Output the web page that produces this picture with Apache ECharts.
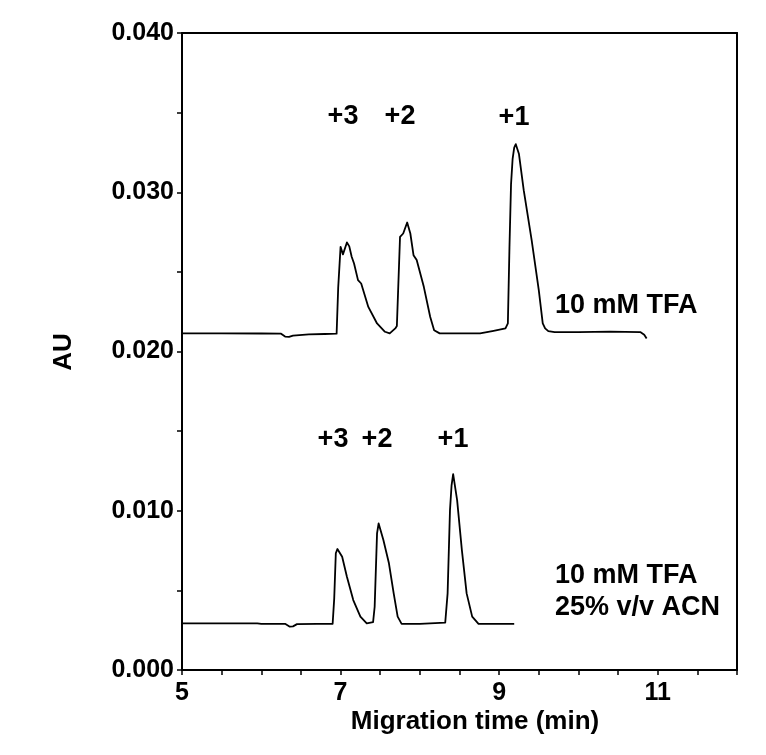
<!DOCTYPE html>
<html>
<head>
<meta charset="utf-8">
<script src="https://cdn.jsdelivr.net/npm/echarts@6/dist/echarts.min.js"></script>
<style>
  html, body { margin: 0; padding: 0; background: #fff; }
  #chart { width: 766px; height: 755px; }
</style>
</head>
<body>
<div id="chart"></div>
<script>
// 10 mM TFA (upper trace)
var tfaTime = [5.00, 5.50, 6.00, 6.25, 6.30, 6.35, 6.40, 6.60, 6.80, 6.95,
  6.97, 7.00, 7.03, 7.05, 7.08, 7.11, 7.14, 7.17, 7.22, 7.26,
  7.35, 7.46, 7.56, 7.62, 7.69, 7.71, 7.75, 7.79, 7.84, 7.88,
  7.92, 7.96, 8.05, 8.13, 8.18, 8.25, 8.50, 8.76, 8.93, 9.08,
  9.11, 9.13, 9.15, 9.17, 9.19, 9.21, 9.23, 9.25, 9.31, 9.41,
  9.50, 9.55, 9.58, 9.62, 9.70, 10.00, 10.40, 10.78, 10.83, 10.86];
var tfaAU = [0.02114, 0.02114, 0.02113, 0.02112, 0.02094, 0.02092, 0.02100, 0.02108, 0.02110, 0.02112,
  0.0240, 0.02657, 0.0261, 0.0260, 0.02685, 0.0266, 0.02595, 0.02553, 0.02448, 0.02427,
  0.0228, 0.02176, 0.02124, 0.02114, 0.02145, 0.0216, 0.0272, 0.02741, 0.0281, 0.02741,
  0.02605, 0.02574, 0.02406, 0.02218, 0.02134, 0.02114, 0.02114, 0.02114, 0.0213, 0.02145,
  0.02176, 0.0265, 0.0305, 0.0321, 0.0328, 0.03302, 0.0329, 0.0324, 0.03013, 0.02699,
  0.02385, 0.02176, 0.02145, 0.02128, 0.02122, 0.02122, 0.02125, 0.02122, 0.02105, 0.02082];

// 10 mM TFA, 25% v/v ACN (lower trace)
var acnTime = [5.00, 5.50, 5.95, 6.00, 6.30, 6.36, 6.40, 6.45, 6.70, 6.90,
  6.92, 6.94, 6.96, 6.98, 7.02, 7.08, 7.16, 7.25, 7.33, 7.41,
  7.43, 7.46, 7.48, 7.50, 7.54, 7.61, 7.67, 7.72, 7.77, 8.00,
  8.32, 8.35, 8.38, 8.40, 8.42, 8.43, 8.445, 8.47, 8.53, 8.59,
  8.66, 8.74, 9.00, 9.19];
var acnAU = [0.00293, 0.00293, 0.00293, 0.0029, 0.0029, 0.00272, 0.00274, 0.00288, 0.0029, 0.0029,
  0.0045, 0.00733, 0.0076, 0.0075, 0.00711, 0.00586, 0.00439, 0.00335, 0.00293, 0.0030,
  0.00397, 0.00858, 0.0092, 0.0091, 0.00816, 0.0067, 0.00481, 0.00335, 0.0029, 0.0029,
  0.00297, 0.00481, 0.01004, 0.0116, 0.0123, 0.01239, 0.0122, 0.01067, 0.00753, 0.00481,
  0.00335, 0.0029, 0.0029, 0.0029];

var xLabels = [5, 7, 9, 11];
var yLabels = [0, 0.01, 0.02, 0.03, 0.04];

var family = '"Liberation Sans", Arial, sans-serif';
var fontTitle = 'bold 26px ' + family;
var fontNote = 'bold 27px ' + family;

function zip(a, b) {
  var out = [];
  for (var i = 0; i < a.length; i++) out.push([a[i], b[i]]);
  return out;
}

function txt(s, x, y, f, align, rot) {
  return {
    type: 'text', x: x, y: y, rotation: rot || 0,
    style: { text: s, font: f || fontNote, fill: '#000', textAlign: align || 'center', textVerticalAlign: 'middle' }
  };
}

var chart = echarts.init(document.getElementById('chart'), null, { renderer: 'canvas' });

var axisLineStyle = { color: '#000', width: 2 };

var option = {
  animation: false,
  backgroundColor: '#fff',
  grid: { left: 182, right: 29, top: 33, bottom: 85, containLabel: false },
  xAxis: [{
    type: 'value', min: 5, max: 12, interval: 0.5,
    axisLine: { show: true, lineStyle: axisLineStyle },
    axisTick: { show: true, length: 5, lineStyle: { color: '#000', width: 1.5 } },
    splitLine: { show: false },
    axisLabel: {
      margin: 11, color: '#000', fontSize: 25, fontWeight: 'bold', fontFamily: family,
      formatter: function (v) { return xLabels.indexOf(v) >= 0 ? String(v) : ''; }
    }
  }, {
    type: 'value', min: 5, max: 12, position: 'top',
    axisLine: { show: true, onZero: false, lineStyle: axisLineStyle },
    axisTick: { show: false }, axisLabel: { show: false }, splitLine: { show: false }
  }],
  yAxis: [{
    type: 'value', min: 0, max: 0.04, interval: 0.005,
    axisLine: { show: true, lineStyle: axisLineStyle },
    axisTick: { show: true, length: 5, lineStyle: { color: '#000', width: 1.5 } },
    splitLine: { show: false },
    axisLabel: {
      margin: 8, color: '#000', fontSize: 25, fontWeight: 'bold', fontFamily: family,
      formatter: function (v) {
        for (var i = 0; i < yLabels.length; i++) {
          if (Math.abs(v - yLabels[i]) < 1e-9) return v.toFixed(3);
        }
        return '';
      }
    }
  }, {
    type: 'value', min: 0, max: 0.04, position: 'right',
    axisLine: { show: true, onZero: false, lineStyle: axisLineStyle },
    axisTick: { show: false }, axisLabel: { show: false }, splitLine: { show: false }
  }],
  series: [{
    name: '10 mM TFA', type: 'line', showSymbol: false, symbol: 'none',
    data: zip(tfaTime, tfaAU),
    lineStyle: { color: '#000', width: 1.8, join: 'round' }
  }, {
    name: '10 mM TFA, 25% v/v ACN', type: 'line', showSymbol: false, symbol: 'none',
    data: zip(acnTime, acnAU),
    lineStyle: { color: '#000', width: 1.8, join: 'round' }
  }],
  graphic: [
    txt('AU', 64, 352, fontTitle, 'center', Math.PI / 2),
    txt('Migration time (min)', 475, 722, fontTitle),
    txt('+3', 343, 117), txt('+2', 400, 117), txt('+1', 514, 118),
    txt('+3', 333, 440), txt('+2', 377, 440), txt('+1', 453, 440),
    txt('10 mM TFA', 555, 306, fontNote, 'left'),
    txt('10 mM TFA', 555, 576, fontNote, 'left'),
    txt('25% v/v ACN', 555, 608, fontNote, 'left')
  ]
};

chart.setOption(option);
</script>
</body>
</html>
